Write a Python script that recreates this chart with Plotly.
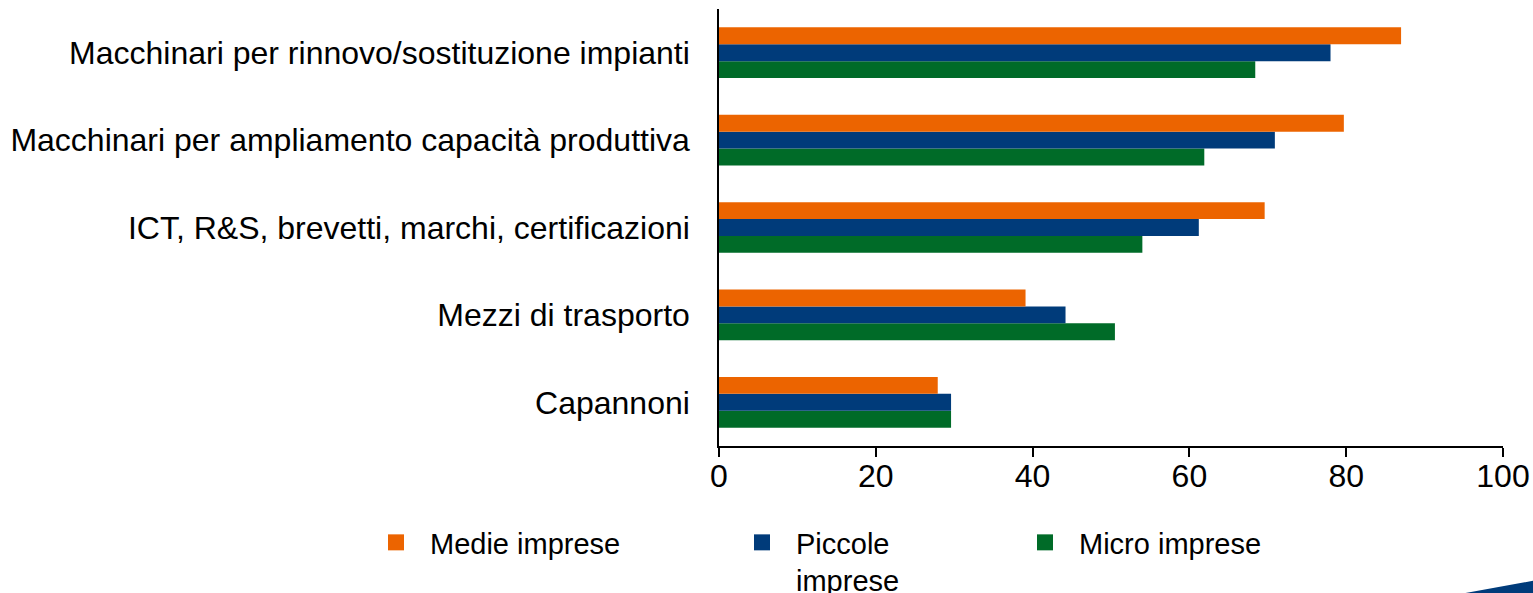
import plotly.graph_objects as go

categories = [
    "Capannoni",
    "Mezzi di trasporto",
    "ICT, R&S, brevetti, marchi, certificazioni",
    "Macchinari per ampliamento capacità produttiva",
    "Macchinari per rinnovo/sostituzione impianti",
]
medie = [27.9, 39.1, 69.6, 79.7, 87.0]
piccole = [29.6, 44.2, 61.2, 70.9, 78.0]
micro = [29.6, 50.5, 54.0, 61.9, 68.4]
x_ticks = [0, 20, 40, 60, 80, 100]

ORANGE = "#EC6400"
BLUE = "#003B7A"
GREEN = "#006B28"
FONT = "Liberation Sans, Arial, sans-serif"

W, H = 1533, 593
L, T = 719, 9
R = 1533 - 1503
B = 593 - 446

series = [
    ("Micro imprese", micro, GREEN, "legend3"),
    ("Piccole<br>imprese", piccole, BLUE, "legend2"),
    ("Medie imprese", medie, ORANGE, "legend"),
]

fig = go.Figure()
for name, vals, col, leg in series:
    fig.add_trace(go.Bar(y=categories, x=vals, orientation="h", name=name,
                         marker=dict(color=col, line=dict(width=0)),
                         showlegend=False))
# legend entries with larger square swatches
for name, vals, col, leg in series:
    fig.add_trace(go.Scatter(x=[None], y=[None], mode="markers", name=name,
                             marker=dict(symbol="square", size=18, color=col,
                                         line=dict(width=0)),
                             legend=leg, showlegend=True))

leg_common = dict(xref="container", yref="container", xanchor="left", yanchor="top",
                  font=dict(size=29, family=FONT, color="black"),
                  bgcolor="rgba(0,0,0,0)", valign="top", itemwidth=58)
ly = 1 - 517 / H
fig.update_layout(
    width=W, height=H,
    margin=dict(l=L, r=R, t=T, b=B, pad=0, autoexpand=False),
    paper_bgcolor="white", plot_bgcolor="white",
    barmode="group", bargap=0.42, bargroupgap=0,
    font=dict(family=FONT, color="black"),
    hovermode=False,
    showlegend=True,
    legend=dict(x=362 / W, y=ly, **leg_common),
    legend2=dict(x=728 / W, y=ly, **leg_common),
    legend3=dict(x=1011 / W, y=ly, **leg_common),
    xaxis=dict(range=[0, 100], tickvals=x_ticks, ticks="outside", ticklen=9,
               tickwidth=1.5, tickcolor="black", showline=True, linecolor="black",
               linewidth=1.5, showgrid=False, zeroline=False, automargin=False,
               tickangle=0, ticklabelstandoff=-8,
               tickfont=dict(size=32, family=FONT, color="black")),
    yaxis=dict(categoryorder="array", categoryarray=categories, showline=True,
               linecolor="black", linewidth=1.5, showgrid=False, ticks="",
               ticklabelstandoff=21, automargin=False,
               tickfont=dict(size=32, family=FONT, color="black")),
)

# decorative corner triangle (px -> paper)
def px2paper(px, py):
    return (px - L) / (W - L - R), (H - B - py) / (H - T - B)

p1 = px2paper(1460, 594)
p2 = px2paper(1540, 579.5)
p3 = px2paper(1540, 594)
fig.add_shape(type="path", xref="paper", yref="paper",
              path=f"M {p1[0]} {p1[1]} L {p2[0]} {p2[1]} L {p3[0]} {p3[1]} Z",
              fillcolor=BLUE, line=dict(width=0), layer="above")

fig.write_html(
    "out.html",
    config={"displayModeBar": False},
    post_script="document.body.style.margin='0px';document.body.style.overflow='hidden';",
)
